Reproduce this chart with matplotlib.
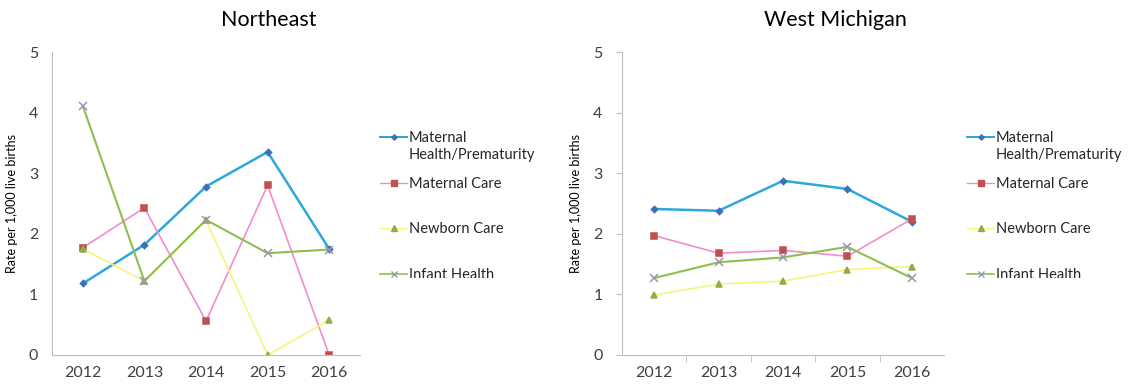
import matplotlib
matplotlib.use("Agg")
import matplotlib.pyplot as plt
from matplotlib.lines import Line2D
from matplotlib.transforms import Bbox, TransformedBbox

plt.rcParams["font.family"] = ["Lato", "DejaVu Sans"]

W, H = 1129, 385

years = ["2012", "2013", "2014", "2015", "2016"]
series_names = ["Maternal\nHealth/Prematurity", "Maternal Care", "Newborn Care", "Infant Health"]

# Northeast
ne_maternal_health = [1.18, 1.82, 2.78, 3.35, 1.75]
ne_maternal_care = [1.77, 2.43, 0.56, 2.80, 0.0]
ne_newborn_care = [1.75, 1.22, 2.22, 0.0, 0.575]
ne_infant_health = [4.11, 1.22, 2.23, 1.68, 1.74]

# West Michigan
wm_maternal_health = [2.41, 2.38, 2.875, 2.74, 2.20]
wm_maternal_care = [1.97, 1.68, 1.725, 1.63, 2.245]
wm_newborn_care = [0.99, 1.17, 1.22, 1.41, 1.46]
wm_infant_health = [1.27, 1.53, 1.61, 1.785, 1.27]

# line colour, marker, marker colour, marker size, line width
styles = [
    ("#2ea8dc", "D", "#3b6fb6", 3.2, 1.8),
    ("#f28ccf", "s", "#c0504d", 4.5, 1.2),
    ("#f6f57a", "^", "#8fae4a", 4.5, 1.2),
    ("#8dbf4f", "x", "#9a94b0", 5.5, 1.5),
]

# legend rows (pixel y of first text line) - excel style spacing
legend_rows = [137, 183, 228, 274]

fig = plt.figure(figsize=(W / 100, H / 100), dpi=100)
ax1 = fig.add_axes([52 / W, 1 - 355 / H, 308 / W, 303 / H])
ax2 = fig.add_axes([622 / W, 1 - 355 / H, 322 / W, 303 / H])


def draw(ax, data, show_ticks, leg_x):
    x = range(len(years))
    for vals, (lc, mk, mc, ms, lw) in zip(data, styles):
        ax.plot(x, vals, color=lc, linewidth=lw, marker=mk, markersize=ms,
                markerfacecolor=mc, markeredgecolor=mc, markeredgewidth=1.1)
    ax.set_xlim(-0.5, 4.5)
    ax.set_ylim(0, 5)
    ax.set_yticks([0, 1, 2, 3, 4, 5])
    ax.set_xticks(list(x))
    ax.set_xticklabels(years)
    for s in ["top", "right"]:
        ax.spines[s].set_visible(False)
    for s in ["left", "bottom"]:
        ax.spines[s].set_color("#bfbfbf")
    ax.tick_params(labelsize=11.5, colors="#404040")
    if show_ticks:
        ax.tick_params(axis="y", length=4, color="#bfbfbf")
        ax.set_xticks([0.5, 1.5, 2.5, 3.5], minor=True)
        ax.tick_params(axis="x", which="major", length=0, pad=8)
        ax.tick_params(axis="x", which="minor", length=5, color="#bfbfbf")
    else:
        ax.tick_params(length=0)
        ax.tick_params(axis="x", pad=8)
    ax.tick_params(axis="y", pad=10)
    ax.set_ylabel("Rate per 1,000 live births", fontsize=9, color="black", labelpad=8)

    # legend drawn by hand, bottom entry cut off like the original
    clip = TransformedBbox(Bbox([[0, 1 - 278 / H], [1, 1]]), fig.transFigure)
    for name, (lc, mk, mc, ms, lw), yy in zip(series_names, styles, legend_rows):
        fy = 1 - yy / H
        ln = Line2D([leg_x / W, (leg_x + 27) / W], [fy, fy], transform=fig.transFigure,
                    color=lc, linewidth=lw * 0.8)
        mkr = Line2D([(leg_x + 13.5) / W], [fy], transform=fig.transFigure,
                     marker=mk, markersize=ms * 0.85, color=mc, markeredgewidth=1.0)
        for a in (ln, mkr):
            a.set_clip_box(clip)
            fig.add_artist(a)
        t = fig.text((leg_x + 29) / W, fy + 6 / H, name, ha="left", va="top",
                     fontsize=10.5, color="#262626", linespacing=1.25)
        t.set_clip_box(clip)
        t.set_clip_on(True)


draw(ax1, [ne_maternal_health, ne_maternal_care, ne_newborn_care, ne_infant_health], False, 380)
draw(ax2, [wm_maternal_health, wm_maternal_care, wm_newborn_care, wm_infant_health], True, 967)

fig.text(269 / W, 1 - 20 / H, "Northeast", ha="center", va="center", fontsize=15.5)
fig.text(835 / W, 1 - 20 / H, "West Michigan", ha="center", va="center", fontsize=15.5)

fig.savefig("out.png", dpi=100, facecolor="white")
